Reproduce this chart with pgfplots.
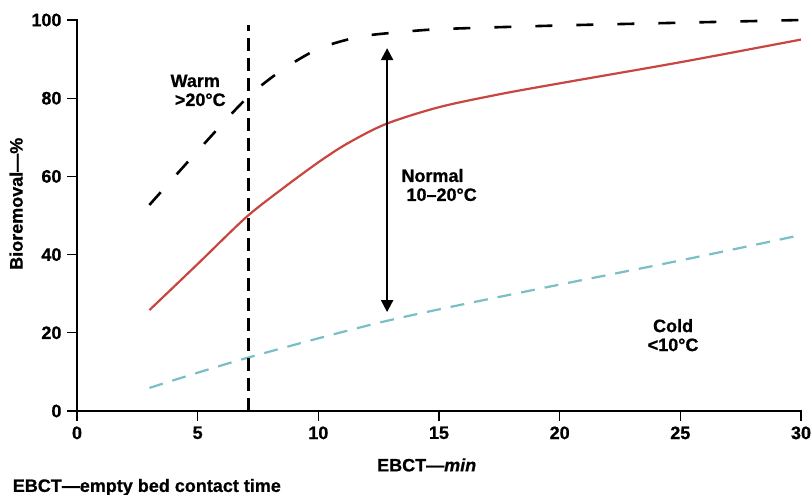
\documentclass[border=0pt]{standalone}
\usepackage{fontspec}
\setmainfont{Liberation Sans}[BoldFont={Liberation Sans Bold}, BoldItalicFont={Liberation Sans Bold Italic}, BoldFeatures={FakeBold=0.8}, BoldItalicFeatures={FakeBold=0.8}]
\usepackage{pgfplots}
\pgfplotsset{compat=1.18}
\usetikzlibrary{arrows.meta}
\definecolor{normalred}{RGB}{201,69,63}
\definecolor{coldcyan}{RGB}{122,190,198}
\newcommand{\lbl}{\fontsize{18}{19}\selectfont\bfseries}

\begin{document}
\begin{tikzpicture}
\useasboundingbox (-77pt,-84pt) rectangle (734pt,411pt);
\begin{axis}[
  scale only axis,
  width=724pt, height=391pt,
  xmin=0, xmax=30, ymin=0, ymax=100,
  xtick={0,5,...,30}, ytick={0,20,...,100},
  axis x line*=bottom, axis y line*=left,
  axis line style={line width=2.2pt, line cap=rect},
  tick style={line width=1.2pt, black},
  major tick length=10pt,
  tick align=outside,
  /pgf/number format/assume math mode=true,
  ticklabel style={font=\lbl},
  xticklabel style={yshift=-2pt},
  yticklabel style={xshift=-2pt},
  clip=false,
]
% Warm (>20 C)
\addplot[black, line width=2.6pt, dash pattern=on 17pt off 24pt, smooth] coordinates {
  (3,52.7) (5,66.5) (7,79.8) (8.45,87) (10,92.6)
  (11.7,95.7) (13.4,96.9) (15.2,97.7)
  (20,98.6) (25,99.3) (30,100)};
% Normal (10-20 C)
\addplot[normalred, line width=2.2pt, smooth] coordinates {
  (3,25.8) (5,37.6) (7,49.5) (8.5,56.8) (10,63.6) (11.2,68.4) (12.8,73.4)
  (15,77.7) (17.5,81) (20,83.8) (25,89.2) (30,95)};
% Cold (<10 C)
\addplot[coldcyan, line width=2.2pt, dash pattern=on 14pt off 10pt, smooth] coordinates {
  (3,5.9) (7,13.5) (12.8,23) (19.1,31.2) (25,38.5) (30,45)};
% EBCT marker
\addplot[black, line width=2.4pt, dash pattern=on 13pt off 7pt] coordinates {(7.1,0) (7.1,98.7)};
% range arrow
\addplot[black, line width=2.2pt, {Triangle[length=12pt,width=12pt]}-{Triangle[length=12pt,width=12pt]}]
  coordinates {(12.85,25.3) (12.85,92.8)};

\node[font=\lbl, align=center] at (axis cs:4.9,82) {Warm\\\hphantom{x}>20°C};
\node[font=\lbl, align=left, anchor=west] at (axis cs:13.3,57.8) {Normal\\\hphantom{.}10–20°C};
\node[font=\lbl, align=center] at (axis cs:24.7,19.4) {Cold\\<10°C};

\node[font=\lbl, rotate=90] at (axis description cs:-0.084,0.53) {Bioremoval—\%};
\node[font=\lbl] at (axis description cs:0.483,-0.138) {EBCT—\textit{min}};
\node[font=\lbl, anchor=west] at (axis description cs:-0.0935,-0.195) {EBCT—empty bed contact time};
\end{axis}
\end{tikzpicture}
\end{document}
